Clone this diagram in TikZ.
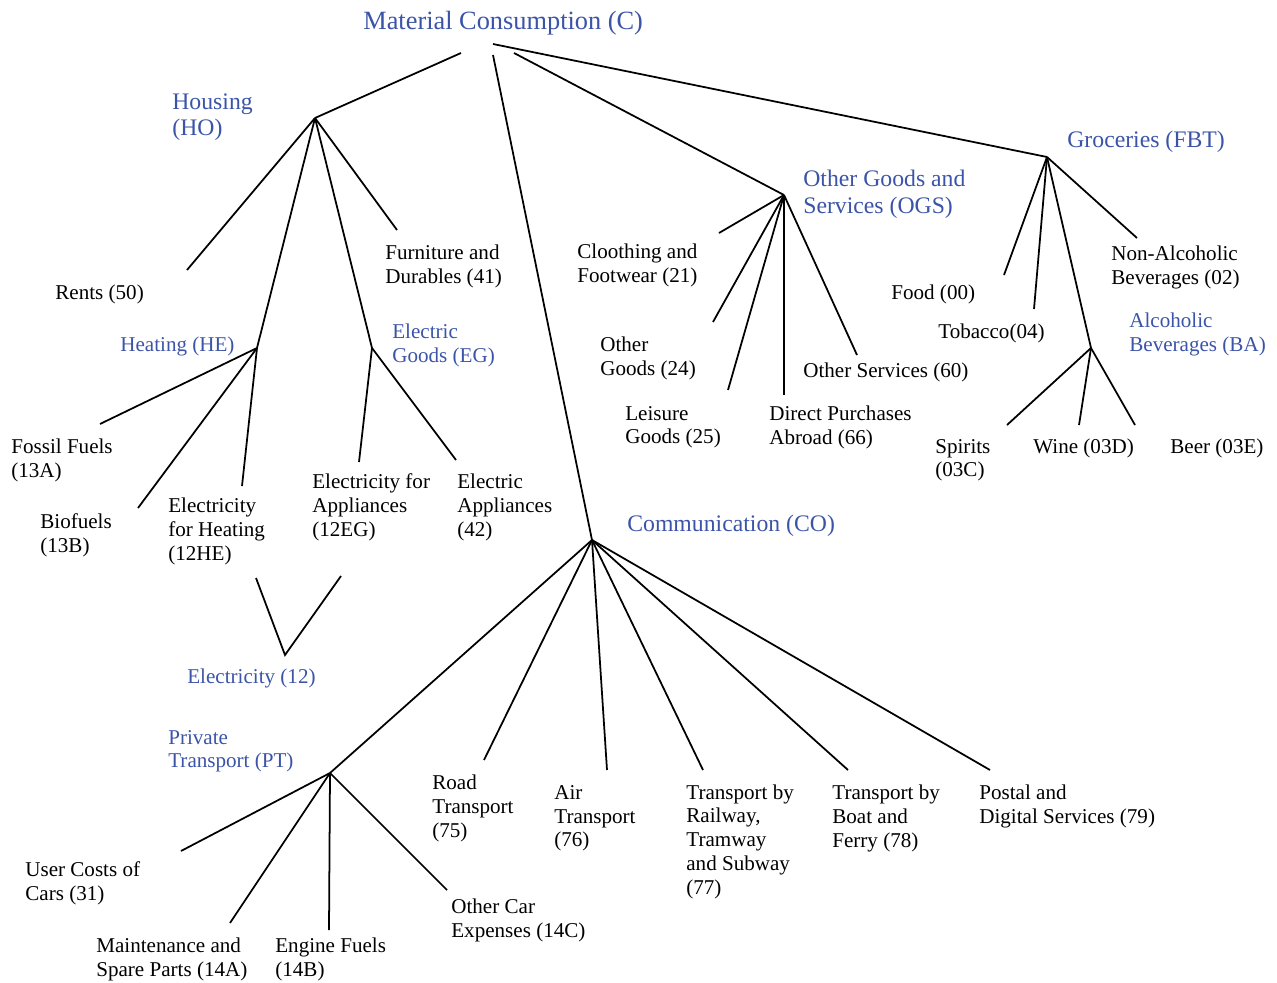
\documentclass[tikz,border=0pt]{standalone}
\usepackage{fontspec}
\setmainfont{Liberation Serif}
\definecolor{catblue}{RGB}{59,84,168}
\tikzset{
  leaf/.style={anchor=west, align=left, inner sep=0pt, yshift=-1.3pt, font=\fontsize{12}{13.6}\selectfont},
  sublabel/.style={leaf, text=catblue},
  catlabel/.style={leaf, text=catblue, font=\fontsize{13.5}{15.2}\selectfont},
  branch/.style={line width=1pt}
}
\begin{document}
\begin{tikzpicture}[x=0.02cm, y=-0.02cm]
\useasboundingbox (0,0) rectangle (1277,983);

%top category
\node [catlabel, font=\fontsize{15}{17}\selectfont] (mc) at (363,21) {Material Consumption (C)};
\coordinate (mcl) at (461,53);
\coordinate (mcm) at (493,55);
\coordinate (mcr) at (514,53);
\coordinate (mcg) at (493,44);

%main categories
\node [catlabel] (ho) at (172,115) {Housing\\(HO)};
\node [catlabel] (fbt) at (1067,140) {Groceries (FBT)};
\node [catlabel] (ogs) at (803,192) {Other Goods and\\Services (OGS)};
\node [catlabel] (co) at (627,524) {Communication (CO)};

\coordinate (hohub) at (315,118);
\coordinate (fbthub) at (1047,157);
\coordinate (ogshub) at (784,195);
\coordinate (cohub) at (592,540);

\draw [branch] (mcl) -- (hohub);
\draw [branch] (mcm) -- (cohub);
\draw [branch] (mcr) -- (ogshub);
\draw [branch] (mcg) -- (fbthub);

% housing
\node [leaf] (rents) at (55,292) {Rents (50)};
\node [leaf] (furn) at (385,264) {Furniture and\\Durables (41)};
\node [sublabel] (he) at (120,344) {Heating (HE)};
\node [sublabel] (eg) at (392,343) {Electric\\Goods (EG)};
\coordinate (rentsend) at (187,270);
\coordinate (furnend) at (397,230);
\coordinate (hehub) at (257,348);
\coordinate (eghub) at (372,348);
\draw [branch] (hohub) -- (rentsend);
\draw [branch] (hohub) -- (furnend);
\draw [branch] (hohub) -- (hehub);
\draw [branch] (hohub) -- (eghub);

% heating
\node [leaf] (fossil) at (11,458) {Fossil Fuels\\(13A)};
\node [leaf] (bio) at (40,533) {Biofuels\\(13B)};
\node [leaf] (elhe) at (168,529) {Electricity\\for Heating\\(12HE)};
\coordinate (fossilend) at (100,424);
\coordinate (bioend) at (138,508);
\coordinate (elheend) at (242,486);
\draw [branch] (hehub) -- (fossilend);
\draw [branch] (hehub) -- (bioend);
\draw [branch] (hehub) -- (elheend);

% electric goods
\node [leaf] (eleg) at (312,505) {Electricity for\\Appliances\\(12EG)};
\node [leaf] (app) at (457,505) {Electric\\Appliances\\(42)};
\coordinate (elegend) at (359,462);
\coordinate (append) at (456,460);
\draw [branch] (eghub) -- (elegend);
\draw [branch] (eghub) -- (append);

% electricity
\node [sublabel] (el) at (187,676) {Electricity (12)};
\coordinate (elhub) at (285,655);
\coordinate (elhetop) at (256,578);
\coordinate (elegtop) at (341,576);
\draw [branch] (elhetop) -- (elhub) -- (elegtop);

% other goods and services
\node [leaf] (cloth) at (577,263) {Cloothing and\\Footwear (21)};
\node [leaf] (othg) at (600,356) {Other\\Goods (24)};
\node [leaf] (leis) at (625,425) {Leisure\\Goods (25)};
\node [leaf] (dpa) at (769,425) {Direct Purchases\\Abroad (66)};
\node [leaf] (oths) at (803,370) {Other Services (60)};
\coordinate (clothend) at (719,233);
\coordinate (othgend) at (713,322);
\coordinate (leisend) at (728,390);
\coordinate (dpaend) at (784,395);
\coordinate (othsend) at (857,355);
\draw [branch] (ogshub) -- (clothend);
\draw [branch] (ogshub) -- (othgend);
\draw [branch] (ogshub) -- (leisend);
\draw [branch] (ogshub) -- (dpaend);
\draw [branch] (ogshub) -- (othsend);

% groceries
\node [leaf] (food) at (891,292) {Food (00)};
\node [leaf] (tob) at (938,331) {Tobacco(04)};
\node [leaf] (nab) at (1111,265) {Non-Alcoholic\\Beverages (02)};
\node [sublabel] (ba) at (1129,332) {Alcoholic\\Beverages (BA)};
\coordinate (foodend) at (1004,275);
\coordinate (tobend) at (1034,309);
\coordinate (nabend) at (1137,238);
\coordinate (bahub) at (1091,348);
\draw [branch] (fbthub) -- (foodend);
\draw [branch] (fbthub) -- (tobend);
\draw [branch] (fbthub) -- (bahub);
\draw [branch] (fbthub) -- (nabend);

% alcoholic beverages
\node [leaf] (spir) at (935,458) {Spirits\\(03C)};
\node [leaf] (wine) at (1033,446) {Wine (03D)};
\node [leaf] (beer) at (1170,446) {Beer (03E)};
\coordinate (spirend) at (1007,425);
\coordinate (wineend) at (1079,425);
\coordinate (beerend) at (1135,425);
\draw [branch] (bahub) -- (spirend);
\draw [branch] (bahub) -- (wineend);
\draw [branch] (bahub) -- (beerend);

% communication
\node [sublabel] (pt) at (168,749) {Private\\Transport (PT)};
\node [leaf] (road) at (432,806) {Road\\Transport\\(75)};
\node [leaf] (air) at (554,816) {Air\\Transport\\(76)};
\node [leaf] (rail) at (686,839.5) {Transport by\\Railway,\\Tramway\\and Subway\\(77)};
\node [leaf] (boat) at (832,816) {Transport by\\Boat and\\Ferry (78)};
\node [leaf] (post) at (979,804) {Postal and\\Digital Services (79)};
\coordinate (pthub) at (330,773);
\coordinate (roadend) at (484,760);
\coordinate (airend) at (607,770);
\coordinate (railend) at (703,770);
\coordinate (boatend) at (848,770);
\coordinate (postend) at (990,770);
\draw [branch] (cohub) -- (pthub);
\draw [branch] (cohub) -- (roadend);
\draw [branch] (cohub) -- (airend);
\draw [branch] (cohub) -- (railend);
\draw [branch] (cohub) -- (boatend);
\draw [branch] (cohub) -- (postend);

% private transport
\node [leaf] (cars) at (25,881) {User Costs of\\Cars (31)};
\node [leaf] (maint) at (96,957) {Maintenance and\\Spare Parts (14A)};
\node [leaf] (fuel) at (275,957) {Engine Fuels\\(14B)};
\node [leaf] (ocar) at (451,918) {Other Car\\Expenses (14C)};
\coordinate (carsend) at (181,851);
\coordinate (maintend) at (230,923);
\coordinate (fuelend) at (329,930);
\coordinate (ocarend) at (447,890);
\draw [branch] (pthub) -- (carsend);
\draw [branch] (pthub) -- (maintend);
\draw [branch] (pthub) -- (fuelend);
\draw [branch] (pthub) -- (ocarend);
\end{tikzpicture}
\end{document}
